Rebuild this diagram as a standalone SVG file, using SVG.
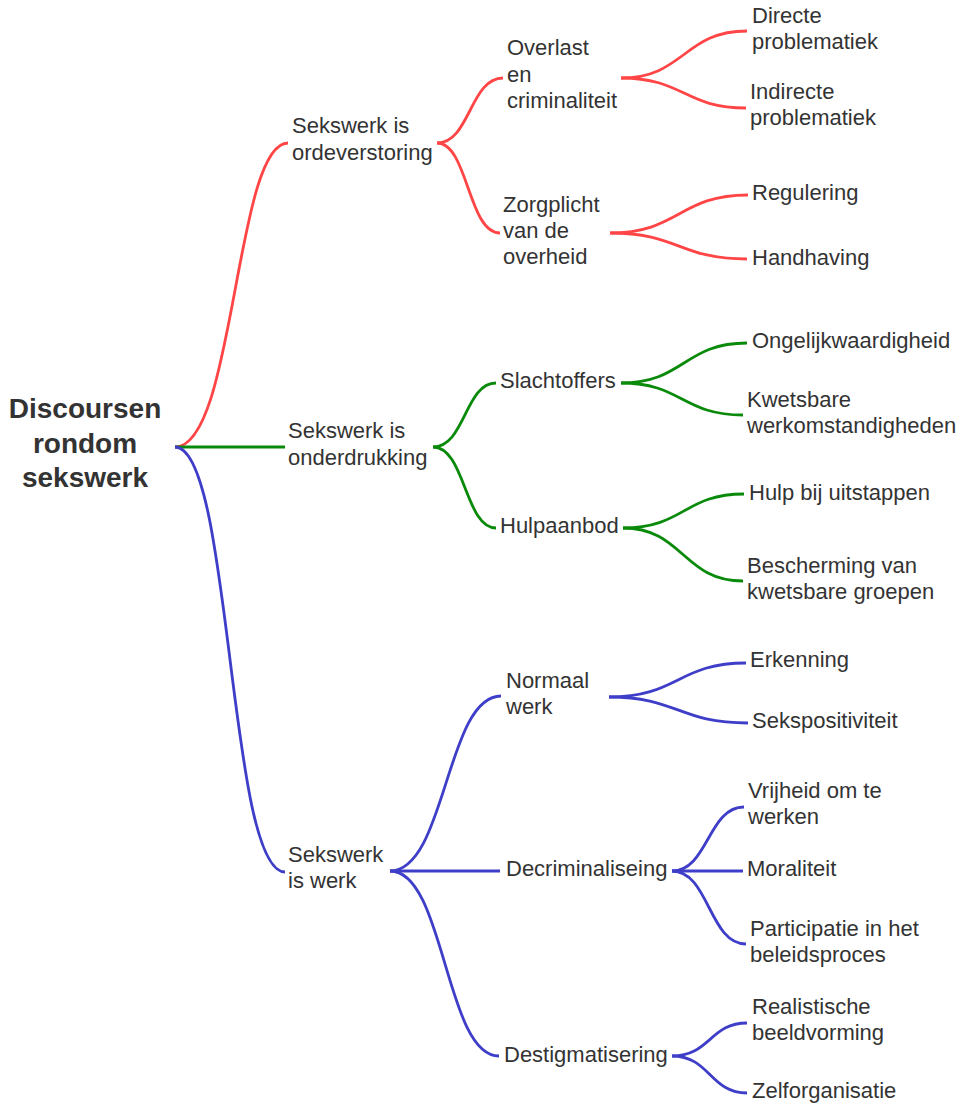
<svg xmlns="http://www.w3.org/2000/svg" width="970" height="1103" viewBox="0 0 970 1103">
<style>
  .t { font-family: "Liberation Sans", Arial, sans-serif; font-size: 22px; fill: #333333; }
  .root { font-family: "Liberation Sans", Arial, sans-serif; font-size: 28px; font-weight: bold; fill: #333333; text-anchor: middle; }
  .c { fill: none; stroke-width: 2.8; stroke-linecap: butt; }
  .red { stroke: #ff4545; }
  .green { stroke: #0a8a0a; }
  .blue { stroke: #3e3ec8; }
</style>
<rect width="970" height="1103" fill="#ffffff"/>
<g id="connectors">
  <path class="c red" d="M175,447 C235,447 235,143 288,143"/>
  <path class="c red" d="M437,143 C470,143 470,78 503,78"/>
  <path class="c red" d="M437,143 C468,143 468,233 500,233"/>
  <path class="c red" d="M621,78 C684,78 684,31 747,31"/>
  <path class="c red" d="M621,78 C684,78 684,108 746,108"/>
  <path class="c red" d="M610,233 C679,233 679,195 748,195"/>
  <path class="c red" d="M610,233 C679,233 679,259 747,259"/>

  <path class="c green" d="M175,447 L285,447"/>
  <path class="c green" d="M433,447 C465,447 465,383 496,383"/>
  <path class="c green" d="M433,447 C465,447 465,528 496,528"/>
  <path class="c green" d="M621,383 C684,383 684,343 747,343"/>
  <path class="c green" d="M621,383 C682,383 682,415 743,415"/>
  <path class="c green" d="M623,528 C684,528 684,494 744,494"/>
  <path class="c green" d="M623,528 C683,528 683,581 743,581"/>

  <path class="c blue" d="M175,447 C232,447 228,872 285,872"/>
  <path class="c blue" d="M390,871 C446,871 446,696 501,696"/>
  <path class="c blue" d="M390,871 L500,871"/>
  <path class="c blue" d="M390,871 C445,871 445,1056 499,1056"/>
  <path class="c blue" d="M609,697 C678,697 678,663 746,663"/>
  <path class="c blue" d="M609,697 C678,697 678,723 748,723"/>
  <path class="c blue" d="M672,871 C708,871 708,807 744,807"/>
  <path class="c blue" d="M672,871 L743,871"/>
  <path class="c blue" d="M672,871 C709,871 709,944 746,944"/>
  <path class="c blue" d="M672,1056 C710,1056 710,1023 747,1023"/>
  <path class="c blue" d="M672,1056 C710,1056 710,1093 747,1093"/>
</g>

<g id="root"><text class="root" x="85" y="418">Discoursen</text><text class="root" x="85" y="453">rondom</text><text class="root" x="85" y="487">sekswerk</text></g>

<g id="n-ordeverstoring"><text class="t" x="292" y="133">Sekswerk is</text><text class="t" x="292" y="160">ordeverstoring</text></g>
<g id="n-overlast"><text class="t" x="507" y="55">Overlast</text><text class="t" x="507" y="82">en</text><text class="t" x="507" y="108">criminaliteit</text></g>
<g id="n-zorgplicht"><text class="t" x="503" y="212">Zorgplicht</text><text class="t" x="503" y="238">van de</text><text class="t" x="503" y="264">overheid</text></g>
<g id="n-directe"><text class="t" x="752" y="23">Directe</text><text class="t" x="752" y="49">problematiek</text></g>
<g id="n-indirecte"><text class="t" x="750" y="99">Indirecte</text><text class="t" x="750" y="125">problematiek</text></g>
<g id="n-regulering"><text class="t" x="752" y="200">Regulering</text></g>
<g id="n-handhaving"><text class="t" x="752" y="265">Handhaving</text></g>

<g id="n-onderdrukking"><text class="t" x="288" y="438">Sekswerk is</text><text class="t" x="288" y="465">onderdrukking</text></g>
<g id="n-slachtoffers"><text class="t" x="500" y="388">Slachtoffers</text></g>
<g id="n-hulpaanbod"><text class="t" x="500" y="533">Hulpaanbod</text></g>
<g id="n-ongelijk"><text class="t" x="752" y="348">Ongelijkwaardigheid</text></g>
<g id="n-kwetsbare"><text class="t" x="747" y="407">Kwetsbare</text><text class="t" x="747" y="433">werkomstandigheden</text></g>
<g id="n-hulp"><text class="t" x="749" y="500">Hulp bij uitstappen</text></g>
<g id="n-bescherming"><text class="t" x="747" y="573">Bescherming van</text><text class="t" x="747" y="599">kwetsbare groepen</text></g>

<g id="n-werk"><text class="t" x="288" y="862">Sekswerk</text><text class="t" x="288" y="888">is werk</text></g>
<g id="n-normaal"><text class="t" x="506" y="688">Normaal</text><text class="t" x="506" y="714">werk</text></g>
<g id="n-decrim"><text class="t" x="506" y="876">Decriminaliseing</text></g>
<g id="n-destig"><text class="t" x="504" y="1062">Destigmatisering</text></g>
<g id="n-erkenning"><text class="t" x="750" y="667">Erkenning</text></g>
<g id="n-sekspos"><text class="t" x="752" y="728">Sekspositiviteit</text></g>
<g id="n-vrijheid"><text class="t" x="748" y="798">Vrijheid om te</text><text class="t" x="748" y="824">werken</text></g>
<g id="n-moraliteit"><text class="t" x="747" y="876">Moraliteit</text></g>
<g id="n-participatie"><text class="t" x="750" y="936">Participatie in het</text><text class="t" x="750" y="962">beleidsproces</text></g>
<g id="n-realistische"><text class="t" x="752" y="1014">Realistische</text><text class="t" x="752" y="1040">beeldvorming</text></g>
<g id="n-zelforg"><text class="t" x="752" y="1098">Zelforganisatie</text></g>
</svg>
